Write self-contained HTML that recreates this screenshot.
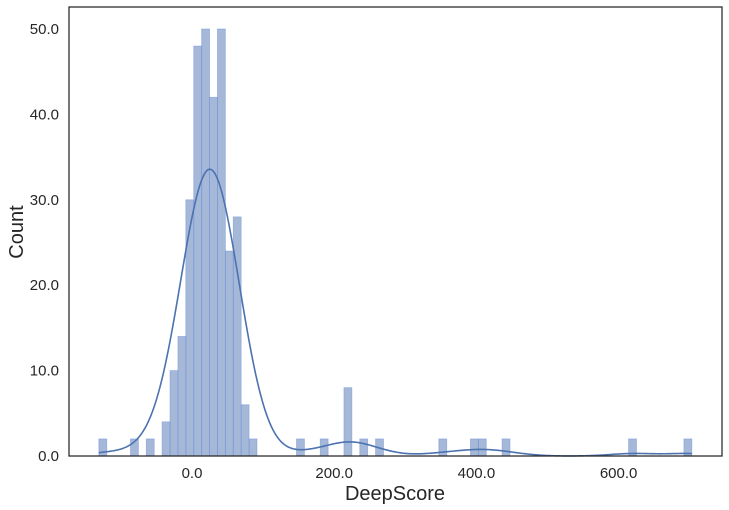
<!DOCTYPE html>
<html><head><meta charset="utf-8"><style>
body{margin:0;background:#fff;}
svg{display:block;font-family:"Liberation Sans",Arial,sans-serif;}
</style></head><body>
<svg id="chart" width="729" height="510"></svg>
<script>
const binStart = -131;
const binWidth = 11.12;
const binCounts = [2,0,0,0,2,0,2,0,4,10,14,30,48,50,42,50,24,28,6,2,0,0,0,0,0,2,0,0,2,0,0,8,0,2,0,2,0,0,0,0,0,0,0,2,0,0,0,2,2,0,0,2,0,0,0,0,0,0,0,0,0,0,0,0,0,0,0,2,0,0,0,0,0,0,2];
const xTicks = [0,200,400,600];
const yTicks = [0,10,20,30,40,50];
const NS="http://www.w3.org/2000/svg";
const svg=document.getElementById('chart');
const L=69,R=722,T=7,B=456;
const x=v=>192+v*0.711;
const y=v=>456-v*8.54;
function mk(t,a){const e=document.createElementNS(NS,t);for(const k in a)e.setAttribute(k,a[k]);svg.appendChild(e);return e;}
const bg=mk('rect',{x:L,y:T,width:R-L,height:B-T,fill:'#fff'});


binCounts.forEach((c,i)=>{
  if(!c)return;
  const x0=x(binStart+i*binWidth),x1=x(binStart+(i+1)*binWidth);
  const r=mk('rect',{x:x0,y:y(c),width:x1-x0,height:y(0)-y(c),fill:'rgba(76,114,176,0.5)',stroke:'rgba(120,150,220,0.6)','stroke-width':0.8});
  
  
});
// KDE from bin centers
const pts=[];binCounts.forEach((c,i)=>{for(let k=0;k<c;k++)pts.push(binStart+(i+0.5)*binWidth);});
const n=pts.length,mean=pts.reduce((a,b)=>a+b,0)/n;
const sd=Math.sqrt(pts.reduce((a,b)=>a+(b-mean)**2,0)/(n-1));
const bw=sd*Math.pow(n,-0.2);
const lo=binStart,hi=binStart+binCounts.length*binWidth;
let d='';
for(let s=0;s<=400;s++){const v=lo+(hi-lo)*s/400;let dens=0;for(const p of pts)dens+=Math.exp(-0.5*((v-p)/bw)**2);dens/=n*bw*Math.sqrt(2*Math.PI);
const cv=dens*n*binWidth;d+=(s?'L':'M')+x(v).toFixed(2)+','+y(cv).toFixed(2);}
const kde=mk('path',{d:d,fill:'none',stroke:'#4c72b0','stroke-width':1.6});


const fr=mk('rect',{x:L,y:T,width:R-L,height:B-T,fill:'none',stroke:'#262626','stroke-width':1.25});


xTicks.forEach(v=>{const t=mk('text',{x:x(v),y:478,'text-anchor':'middle','font-size':15,fill:'#262626'});t.textContent=v.toFixed(1);

});
yTicks.forEach(v=>{const t=mk('text',{x:59,y:y(v)+5,'text-anchor':'end','font-size':15,fill:'#262626'});t.textContent=v.toFixed(1);

});
const xl=mk('text',{x:395,y:500,'text-anchor':'middle','font-size':20,fill:'#262626'});xl.textContent='DeepScore';


const yl=mk('text',{x:0,y:0,'text-anchor':'middle','font-size':20,fill:'#262626',transform:'translate(23,232) rotate(-90)'});yl.textContent='Count';


</script>
</body></html>
